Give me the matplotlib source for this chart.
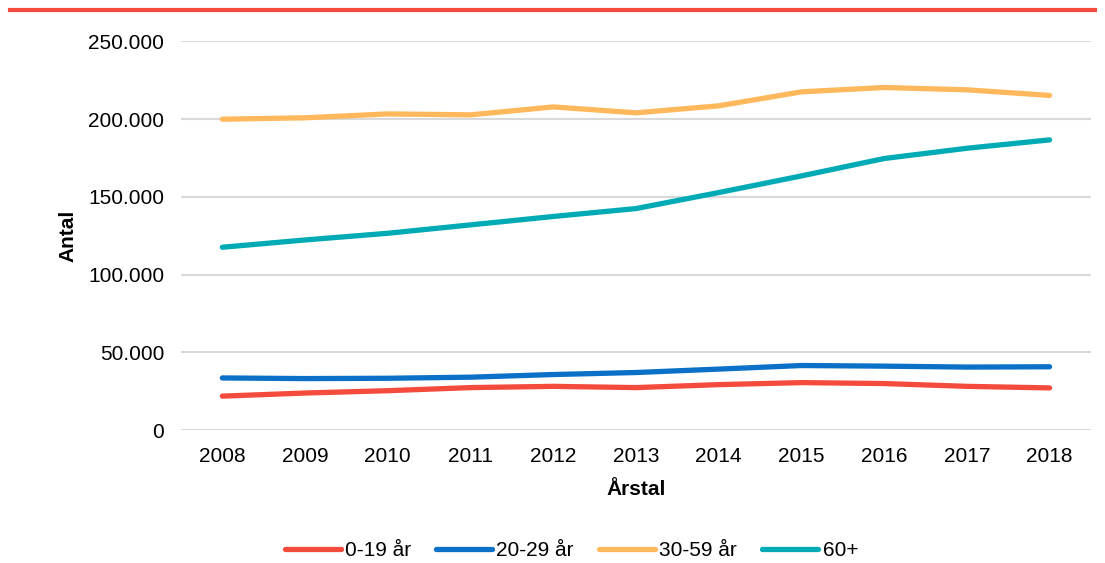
import matplotlib.pyplot as plt
from matplotlib.lines import Line2D
from matplotlib.ticker import FuncFormatter

plt.rcParams['font.family'] = ['Liberation Sans', 'DejaVu Sans']

years = [2008, 2009, 2010, 2011, 2012, 2013, 2014, 2015, 2016, 2017, 2018]
age_0_19 = [21800, 23800, 25300, 27300, 28100, 27300, 29200, 30500, 29900, 28100, 27100]
age_20_29 = [33500, 33100, 33300, 34000, 35700, 37000, 39200, 41500, 41100, 40500, 40700]
age_30_59 = [200000, 200900, 203400, 202800, 207900, 204100, 208600, 217600, 220400, 218900, 215300]
age_60 = [117600, 122300, 126600, 132000, 137400, 142500, 152800, 163500, 174700, 181300, 186700]

labels = ['0-19 år', '20-29 år', '30-59 år', '60+']
colors = ['#F44B3C', '#0A70C8', '#FFB85B', '#00ABB6']
yticks = [0, 50000, 100000, 150000, 200000, 250000]

fig = plt.figure(figsize=(11.05, 5.63), dpi=100)
ax = fig.add_axes([0.1638, 0.2362, 0.8235, 0.6901])

for vals, lab, col in zip([age_0_19, age_20_29, age_30_59, age_60], labels, colors):
    ax.plot(years, vals, color=col, lw=3.8, label=lab, solid_capstyle='round')

ax.set_xlim(2007.5, 2018.5)
ax.set_ylim(0, 250000)
ax.set_xticks(years)
ax.set_yticks(yticks)
ax.yaxis.set_major_formatter(FuncFormatter(lambda v, p: f"{int(v):,}".replace(',', '.')))
ax.grid(axis='y', color='#D9D9D9', lw=1.5)
ax.set_axisbelow(True)
for s in ax.spines.values():
    s.set_visible(False)
ax.tick_params(length=0, labelsize=15, colors='black', pad=12)
ax.tick_params(axis='y', pad=12)

ax.set_xlabel('Årstal', fontsize=15, fontweight='bold', labelpad=10)
ax.set_ylabel('Antal', fontsize=15, fontweight='bold', labelpad=8)

ax.legend(loc='center', bbox_to_anchor=(0.517, 0.022), bbox_transform=fig.transFigure,
          ncol=4, frameon=False, fontsize=15, handlelength=2.7, handletextpad=0.2,
          columnspacing=1.2)

fig.add_artist(Line2D([0.009, 0.991], [0.982, 0.982], transform=fig.transFigure,
                      color='#F44B3C', lw=3))

fig.savefig('out.png', dpi=100)
